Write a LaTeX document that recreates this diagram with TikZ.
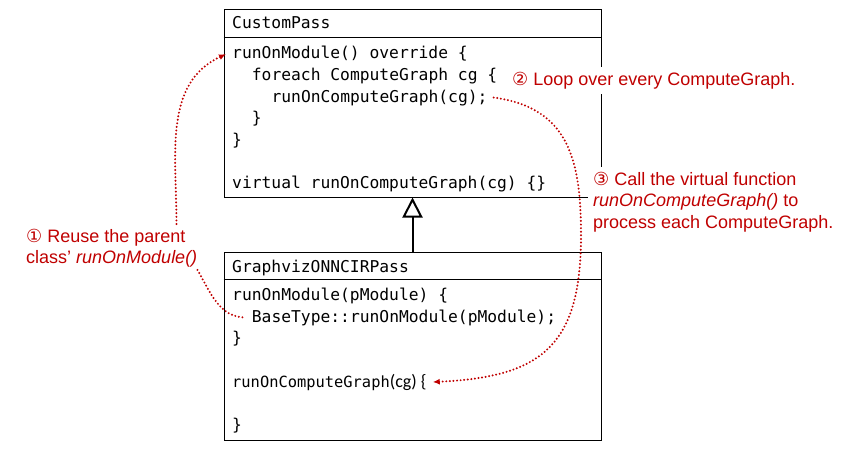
\documentclass[tikz,border=0pt]{standalone}
\usepackage{fontspec}
\setmainfont{Liberation Sans}
\setmonofont{DejaVu Sans Mono}
\newfontfamily\circfont{DejaVu Sans}
\newfontfamily\calfont{Carlito}
\usetikzlibrary{arrows.meta,calc}
\definecolor{notered}{RGB}{192,0,0}

\tikzset{
  codeline/.style={anchor=base west, inner xsep=6pt, inner ysep=0pt,
                   font=\ttfamily\fontsize{16.3}{19}\selectfont},
  classbox/.style={draw, line width=1pt, minimum width=377pt, inner sep=0pt},
  note/.style={text=notered, fill=white, inner sep=5pt, align=left,
               font=\fontsize{18}{21.5}\selectfont},
  callout/.style={notered, line width=2.2pt, dash pattern=on 0pt off 3.6pt, line cap=round},
}
\newcommand{\stepno}[1]{{\circfont #1}}

\begin{document}
\begin{tikzpicture}[x=1pt, y=-1pt]
  \useasboundingbox (0,0) rectangle (845,452);

  % class boxes
  \node[classbox, minimum height=187pt] (custompass) at (412.5,103.5) {};
  \node[classbox, minimum height=188pt] (graphviz) at (412.5,346) {};
  \draw[line width=1pt] ([yshift=-28pt]custompass.north west) -- ([yshift=-28pt]custompass.north east);
  \draw[line width=1pt] ([yshift=-28pt]graphviz.north west) -- ([yshift=-28pt]graphviz.north east);
  \draw[line width=2pt, -{Triangle[open, length=20pt, width=20pt]}] (graphviz.north) -- (custompass.south);

  % CustomPass
  \node[codeline] (cpname) at (226,29) {CustomPass};
  \node[codeline] (cpmod) at (226,59) {runOnModule() override \{};
  \node[codeline] (cploop) at (245.7,80.5) {foreach ComputeGraph cg \{};
  \node[codeline] (cpcall) at (265.4,102) {runOnComputeGraph(cg);};
  \node[codeline] (cploopend) at (245.7,123.5) {\}};
  \node[codeline] (cpmodend) at (226,145) {\}};
  \node[codeline] (cpvirt) at (226,188) {virtual runOnComputeGraph(cg) \{\}};

  % GraphvizONNCIRPass
  \node[codeline] (gvname) at (226,272) {GraphvizONNCIRPass};
  \node[codeline] (gvmod) at (226,300) {runOnModule(pModule) \{};
  \node[codeline] (gvbase) at (245.7,322) {BaseType::runOnModule(pModule);};
  \node[codeline] (gvmodend) at (226,343.5) {\}};
  \node[codeline, font=\ttfamily\fontsize{15.4}{19}\selectfont] (gvcg) at (226,387)
    {runOnComputeGraph{\calfont\fontsize{18}{19}\selectfont(cg) \{}};
  \node[codeline] (gvcgend) at (226,430) {\}};

  % notes
  \node[note, anchor=base west] (loopnote) at (507,85.5)
    {\stepno{②} Loop over every ComputeGraph.};
  \node[note, anchor=north west] (callnote) at (588,167)
    {\stepno{③} Call the virtual function\\\textit{runOnComputeGraph()} to\\process each ComputeGraph.};
  \node[note, anchor=north west] (reusenote) at (21,224)
    {\stepno{①} Reuse the parent\\class’ \textit{runOnModule()}};

  % call-outs
  \coordinate (turn) at (581,235);
  \draw[callout, -{Latex[length=7pt, width=6pt]}] ([xshift=-26pt]reusenote.north east)
    to[out=90, in=205] (cpmod.west);
  \draw[callout] ([xshift=-5pt, yshift=3pt]reusenote.south east) to[out=-60, in=180] (gvbase.west);
  \draw[callout, -{Latex[length=7pt, width=6pt]}] (cpcall.east)
    .. controls +(75,10) and +(0,-75) .. (turn)
    .. controls +(0,110) and +(110,-5) .. (gvcg.east);
\end{tikzpicture}
\end{document}
